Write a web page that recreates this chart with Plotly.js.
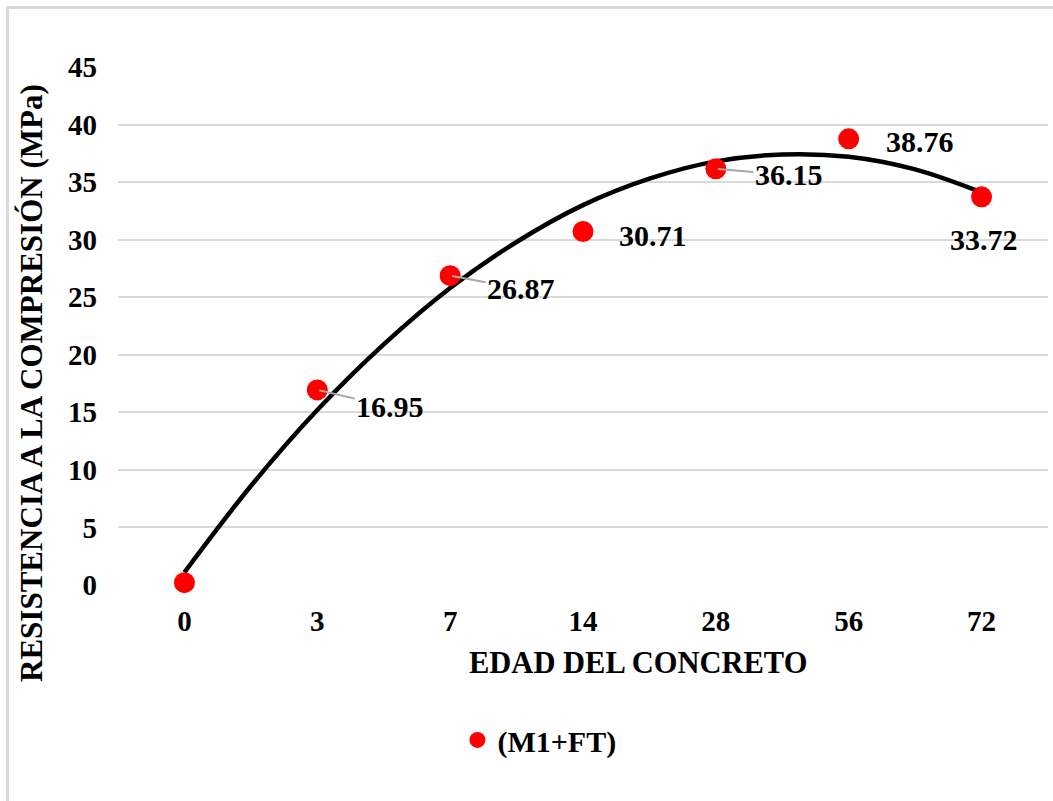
<!DOCTYPE html>
<html>
<head>
<meta charset="utf-8">
<script src="https://cdn.plot.ly/plotly-3.0.1.min.js"></script>
<style>
html,body{margin:0;padding:0;background:#fff;}
#chart{position:absolute;left:0;top:0;width:1053px;height:801px;}
#frame{position:absolute;left:6px;top:6px;width:1100px;height:900px;border-left:3px solid #d9d9d9;border-top:3px solid #d9d9d9;pointer-events:none;}
</style>
</head>
<body>
<div id="chart"></div>
<div id="frame"></div>
<script>
// Data
const ageLabels = ["0", "3", "7", "14", "28", "56", "72"];
const strength = [0.2, 16.95, 26.87, 30.71, 36.15, 38.76, 33.72];
const labelText = ["", "16.95", "26.87", "30.71", "36.15", "38.76", "33.72"];
const yTicks = [0, 5, 10, 15, 20, 25, 30, 35, 40, 45];
// Polynomial trend line (category positions, values in MPa)
const trendPos = [0, 0.5, 1, 1.5, 2, 2.5, 3, 3.5, 4, 4.5, 5, 5.5, 6];
const trendVal = [1.1, 8.6, 15.2, 20.9, 25.8, 29.8, 33.0, 35.3, 36.8, 37.4, 37.2, 36.1, 34.1];
const seriesName = "(M1+FT)";
const xTitle = "EDAD DEL CONCRETO";
const yTitle = "RESISTENCIA A LA COMPRESIÓN (MPa)";

const pos = ageLabels.map((_, i) => i);
const FONT = "Liberation Serif";
const B = (s) => "<b>" + s + "</b>";
const f = (size) => ({family: FONT, size: size, color: "#000"});

// label placement (pixel offsets) and whether a leader line is shown
const labelOffsets = [[0,0],[73,17],[71,13],[70,4],[73,6],[71,3],[2,43]];
const leader = [false, true, true, false, true, false, false];

const traces = [
  {
    x: trendPos, y: trendVal, type: "scatter", mode: "lines",
    line: {color: "#000000", width: 4.5, shape: "spline"},
    showlegend: false, hoverinfo: "skip", cliponaxis: false
  },
  {
    x: pos, y: strength, type: "scatter", mode: "markers",
    name: B(seriesName),
    marker: {color: "#ff0000", size: 21},
    cliponaxis: false
  }
];

const annotations = [];
pos.forEach((p, i) => {
  if (!labelText[i]) return;
  annotations.push({
    x: p, y: strength[i], xref: "x", yref: "y",
    text: B(labelText[i]),
    showarrow: true, arrowhead: 0,
    arrowcolor: leader[i] ? "#a6a6a6" : "rgba(0,0,0,0)",
    arrowwidth: 2, standoff: 2,
    ax: labelOffsets[i][0], ay: labelOffsets[i][1],
    font: f(30)
  });
});
annotations.push({
  text: B(yTitle),
  xref: "paper", yref: "paper", x: -0.0925, y: 0.39,
  xanchor: "center", yanchor: "middle",
  textangle: -90, showarrow: false,
  font: f(31)
});
annotations.push({
  text: B(xTitle),
  xref: "paper", yref: "paper", x: 0.559, y: -0.1506,
  xanchor: "center", yanchor: "middle",
  showarrow: false,
  font: f(30.5)
});

const layout = {
  width: 1053, height: 801,
  margin: {l: 118, r: 5, t: 67, b: 216},
  paper_bgcolor: "#ffffff", plot_bgcolor: "#ffffff",
  font: {family: FONT, color: "#000"},
  xaxis: {
    range: [-0.5, 6.5], tickvals: pos, ticktext: ageLabels.map(B),
    showgrid: false, zeroline: false, showline: false, ticks: "",
    tickfont: f(29),
    ticklabelstandoff: 16
  },
  yaxis: {
    range: [0, 45], tickvals: yTicks, ticktext: yTicks.map(v => B(String(v))),
    showgrid: true, gridcolor: "#d9d9d9", gridwidth: 2,
    zeroline: false, showline: false, ticks: "",
    tickfont: f(29),
    ticklabelstandoff: 20
  },
  showlegend: true,
  legend: {
    x: 0.365, y: -0.299, xanchor: "left", yanchor: "middle",
    orientation: "h",
    font: f(30),
    itemsizing: "trace"
  },
  annotations: annotations
};

Plotly.newPlot("chart", traces, layout, {displayModeBar: false, staticPlot: true});
</script>
</body>
</html>
